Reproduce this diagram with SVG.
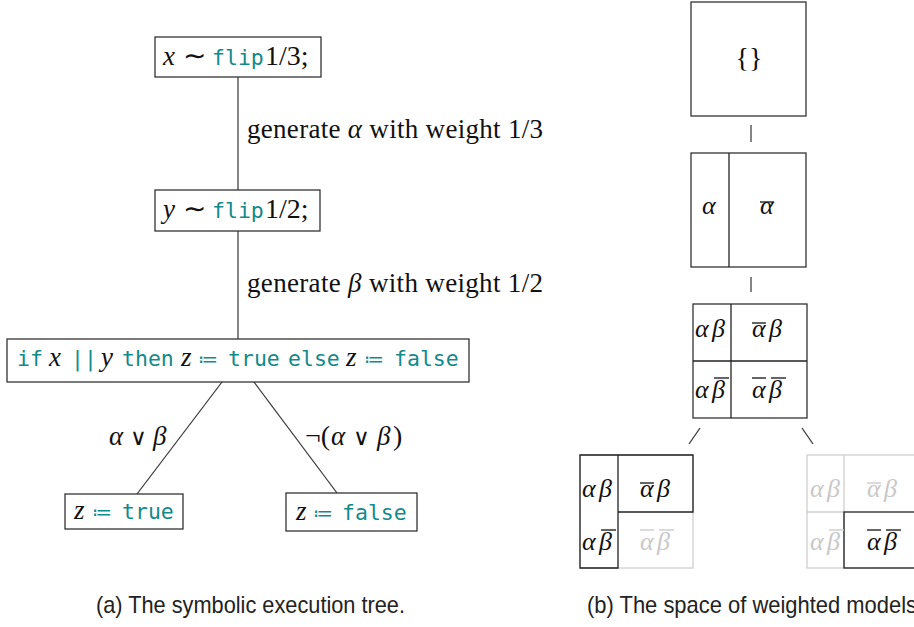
<svg xmlns="http://www.w3.org/2000/svg" width="914" height="627" viewBox="0 0 914 627">
<style>
.box{fill:#fff;stroke:#333;stroke-width:1.3}
.edge{stroke:#333;stroke-width:1.2;fill:none}
.m{font-family:"Liberation Serif",serif;font-style:italic;font-size:27px;fill:#111}
.mm{font-family:"Liberation Serif",serif;font-style:italic;font-size:26px;fill:#111}
.r{font-family:"Liberation Serif",serif;font-style:normal;font-size:28px;fill:#111}
.or{font-family:"DejaVu Sans",sans-serif;font-style:normal;font-weight:200;font-size:23px;fill:#111}
.c{font-family:"DejaVu Sans Mono",monospace;font-style:normal;font-size:21.5px;fill:#118a8a}
.ce{font-family:"DejaVu Sans","Liberation Serif",serif;font-style:normal;font-size:20px;fill:#118a8a}
.lbl{font-family:"Liberation Serif",serif;font-size:27px;fill:#111}
.cap{font-family:"Liberation Sans",sans-serif;font-size:24px;fill:#222}
.g{fill:#c8c8c8}
.bar{stroke:#111;stroke-width:1.3}
.barg{stroke:#c8c8c8;stroke-width:1.3}
.k{stroke:#222;stroke-width:1.3;fill:none}
.gr{stroke:#cfcfcf;stroke-width:1.3;fill:none}
</style>

<g id="connectors">
  <line class="edge" x1="238" y1="77" x2="238" y2="190"/>
  <line class="edge" x1="238" y1="231" x2="238" y2="339"/>
  <line class="edge" x1="222" y1="382" x2="137" y2="494"/>
  <line class="edge" x1="254" y1="382" x2="337" y2="493"/>
  <text class="lbl" x="247" y="138" textLength="296" lengthAdjust="spacing">generate <tspan class="m">α</tspan> with weight 1/3</text>
  <text class="lbl" x="247" y="292" textLength="296" lengthAdjust="spacing">generate <tspan class="m">β</tspan> with weight 1/2</text>
  <text class="m" x="109" y="445">α<tspan class="or" x="130">∨</tspan><tspan x="153">β</tspan></text>
  <text class="r" x="305" y="445" font-size="27px">¬(<tspan class="m" x="331">α</tspan><tspan class="or" x="353">∨</tspan><tspan class="m" x="377">β</tspan><tspan x="393">)</tspan></text>
</g>

<g id="node-x">
  <rect class="box" x="155" y="37" width="166" height="40"/>
  <text class="m" x="163" y="65">x</text>
  <text class="r" x="183" y="65">∼</text>
  <text class="c" x="212" y="65">flip</text>
  <text class="r" x="265" y="65">1/3;</text>
</g>

<g id="node-y">
  <rect class="box" x="155" y="190" width="165" height="41"/>
  <text class="m" x="163" y="218">y</text>
  <text class="r" x="183" y="218">∼</text>
  <text class="c" x="212" y="218">flip</text>
  <text class="r" x="265" y="218">1/2;</text>
</g>

<g id="node-if">
  <rect class="box" x="7" y="339" width="462" height="43"/>
  <text class="c" x="17" y="366">if</text>
  <text class="m" x="49" y="366">x</text>
  <text class="c" x="71" y="366">||</text>
  <text class="m" x="101" y="366">y</text>
  <text class="c" x="122" y="366">then</text>
  <text class="m" x="181" y="366">z</text>
  <text class="ce" x="198" y="366">≔</text>
  <text class="c" x="228" y="366">true</text>
  <text class="c" x="288" y="366">else</text>
  <text class="m" x="346" y="366">z</text>
  <text class="ce" x="364" y="366">≔</text>
  <text class="c" x="394" y="366">false</text>
</g>

<g id="node-true">
  <rect class="box" x="65" y="494" width="118" height="35"/>
  <text class="m" x="74" y="519">z</text>
  <text class="ce" x="92" y="519">≔</text>
  <text class="c" x="122" y="519">true</text>
</g>

<g id="node-false">
  <rect class="box" x="286" y="493" width="131" height="38"/>
  <text class="m" x="296" y="520">z</text>
  <text class="ce" x="313" y="520">≔</text>
  <text class="c" x="342" y="520">false</text>
</g>

<g id="ticks">
  <line class="edge" x1="751" y1="125" x2="751" y2="142"/>
  <line class="edge" x1="751" y1="277" x2="751" y2="292"/>
  <line class="edge" x1="700" y1="428" x2="689" y2="444"/>
  <line class="edge" x1="802" y1="428" x2="813" y2="444"/>
</g>

<g id="model-empty">
  <rect class="box" x="691" y="2" width="115" height="114"/>
  <text class="r" x="749" y="67" text-anchor="middle" font-size="29px">{}</text>
</g>

<g id="model-alpha">
  <rect class="box" x="691" y="153" width="115" height="114"/>
  <line class="k" x1="729" y1="153" x2="729" y2="267"/>
  <text class="mm" x="702" y="214">α</text>
  <text class="mm" x="760" y="214">α</text>
  <line class="bar" x1="760" y1="202" x2="774" y2="202"/>
</g>

<g id="model-ab">
  <rect class="box" x="693" y="304" width="114" height="114"/>
  <line class="k" x1="731" y1="304" x2="731" y2="418"/>
  <line class="k" x1="693" y1="361" x2="807" y2="361"/>
  <text class="mm" x="695" y="337">α</text><text class="mm" x="712" y="337">β</text>
  <text class="mm" x="752" y="337">α</text><text class="mm" x="769" y="337">β</text>
  <line class="bar" x1="752" y1="323" x2="766" y2="323"/>
  <text class="mm" x="695" y="398">α</text><text class="mm" x="712" y="398">β</text>
  <line class="bar" x1="714" y1="378" x2="729" y2="378"/>
  <text class="mm" x="752" y="398">α</text><text class="mm" x="769" y="398">β</text>
  <line class="bar" x1="752" y1="378" x2="766" y2="378"/>
  <line class="bar" x1="771" y1="378" x2="786" y2="378"/>
</g>

<g id="model-or">
  <rect x="580" y="455" width="113" height="113" fill="#fff" class="gr"/>
  <path class="k" d="M580,455 H693 V512 H618 V568 H580 Z M618,455 V512 M618,512 H693"/>
  <text class="mm" x="582" y="497">α</text><text class="mm" x="599" y="497">β</text>
  <text class="mm" x="640" y="497">α</text><text class="mm" x="657" y="497">β</text>
  <line class="bar" x1="640" y1="483" x2="654" y2="483"/>
  <text class="mm" x="582" y="550">α</text><text class="mm" x="599" y="550">β</text>
  <line class="bar" x1="601" y1="530" x2="616" y2="530"/>
  <text class="mm g" x="640" y="550">α</text><text class="mm g" x="657" y="550">β</text>
  <line class="barg" x1="640" y1="530" x2="654" y2="530"/>
  <line class="barg" x1="659" y1="530" x2="674" y2="530"/>
</g>

<g id="model-not-or">
  <rect x="807" y="455" width="113" height="113" fill="#fff" class="gr"/>
  <line class="gr" x1="844" y1="455" x2="844" y2="512"/>
  <line class="gr" x1="807" y1="512" x2="844" y2="512"/>
  <line class="gr" x1="844" y1="512" x2="844" y2="568"/>
  <rect class="k" x="844" y="512" width="76" height="56"/>
  <text class="mm g" x="810" y="497">α</text><text class="mm g" x="827" y="497">β</text>
  <text class="mm g" x="867" y="497">α</text><text class="mm g" x="884" y="497">β</text>
  <line class="barg" x1="867" y1="483" x2="881" y2="483"/>
  <text class="mm g" x="810" y="550">α</text><text class="mm g" x="827" y="550">β</text>
  <line class="barg" x1="829" y1="530" x2="844" y2="530"/>
  <text class="mm" x="867" y="550">α</text><text class="mm" x="884" y="550">β</text>
  <line class="bar" x1="867" y1="530" x2="881" y2="530"/>
  <line class="bar" x1="886" y1="530" x2="901" y2="530"/>
</g>

<text class="cap" x="96" y="613" textLength="309" lengthAdjust="spacingAndGlyphs">(a) The symbolic execution tree.</text>
<text class="cap" x="587" y="613" textLength="330" lengthAdjust="spacingAndGlyphs">(b) The space of weighted models</text>
</svg>
